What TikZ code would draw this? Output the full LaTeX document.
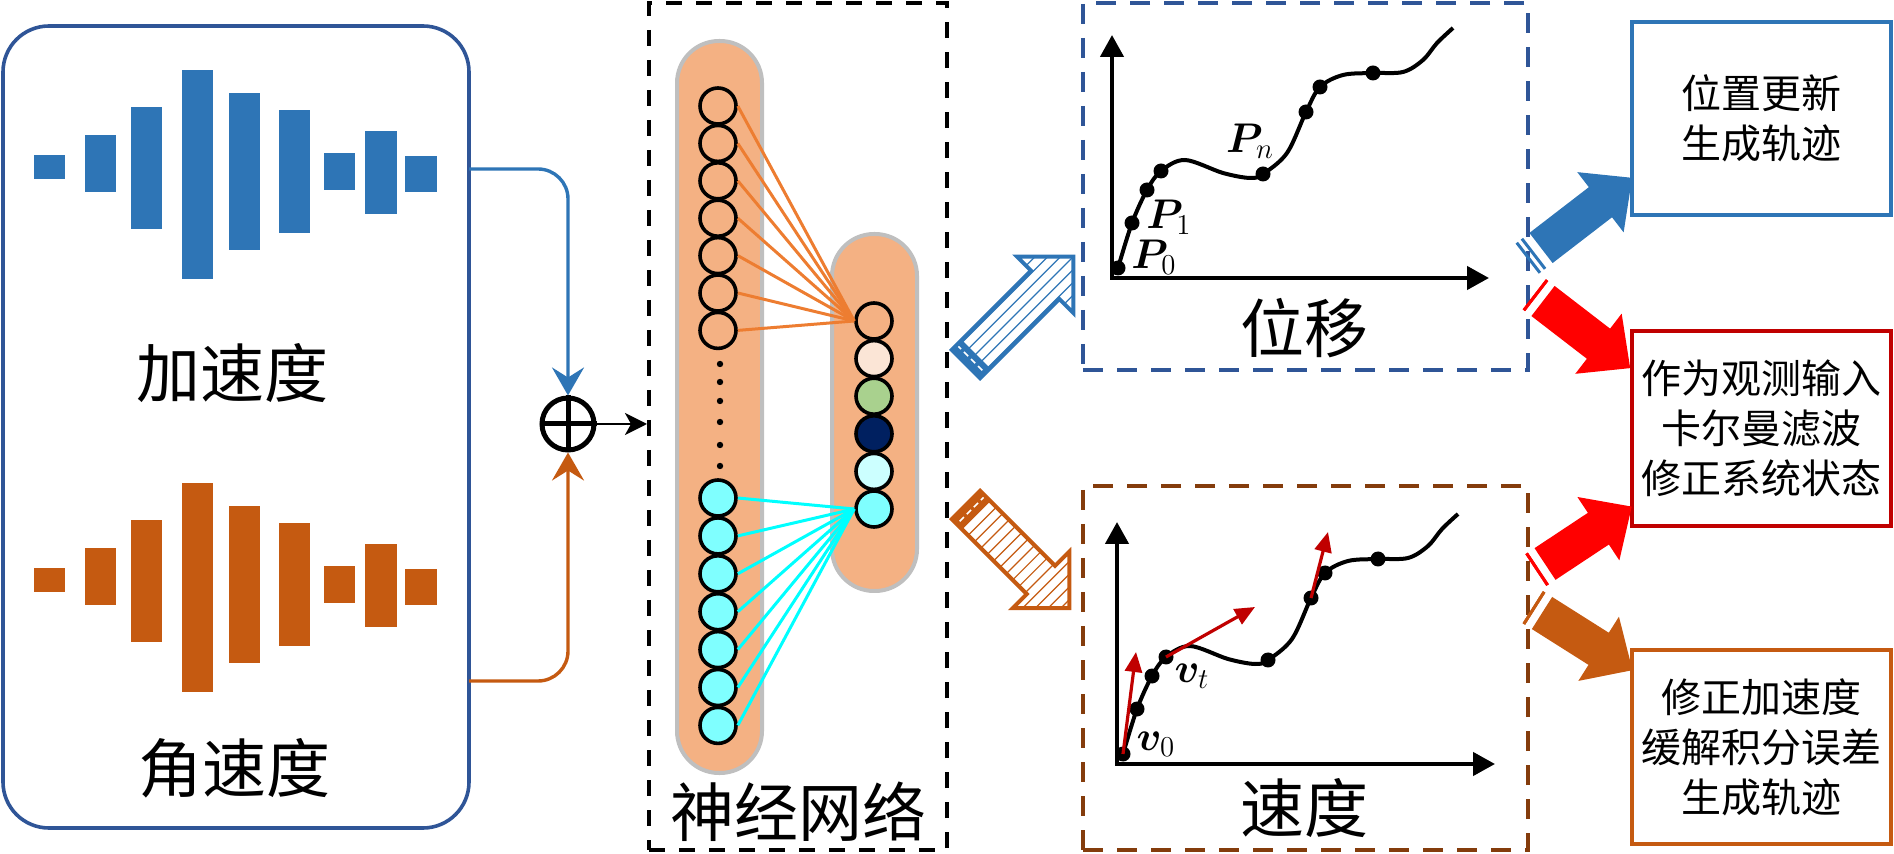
\documentclass[tikz,border=0pt]{standalone}
\usepackage{fontspec}
\usepackage{bm}
\newfontfamily\cjk{Noto Sans CJK SC}
\usetikzlibrary{arrows.meta}

\definecolor{accblue}{HTML}{2E75B6}
\definecolor{gyrorange}{HTML}{C55A11}
\definecolor{panelblue}{HTML}{2F5597}
\definecolor{velbrown}{HTML}{843C0C}
\definecolor{colfill}{HTML}{F4B183}
\definecolor{colgray}{HTML}{BFBFBF}
\definecolor{linkorange}{HTML}{ED7D31}
\definecolor{linkcyan}{HTML}{00FFFF}
\definecolor{cyanfill}{HTML}{7FFFFF}
\definecolor{peach}{HTML}{FBE5D6}
\definecolor{leaf}{HTML}{A9D18E}
\definecolor{navyfill}{HTML}{002060}
\definecolor{icefill}{HTML}{CCFFFF}
\definecolor{alertred}{HTML}{FF0000}
\definecolor{darkred}{HTML}{C00000}

\tikzset{
  cjkbig/.style={font=\cjk\fontsize{32pt}{36pt}\selectfont, inner sep=0pt},
  mathlabel/.style={font=\fontsize{20.74pt}{24pt}\selectfont, inner sep=0pt},
  neuron/.style={circle, draw=black, line width=1.8pt, minimum size=18pt, inner sep=0pt},
  column/.style={rectangle, rounded corners=21pt, fill=colfill, draw=colgray, line width=2pt},
  resultbox/.style={rectangle, line width=2pt, minimum width=129.5pt, minimum height=96.5pt,
    align=center, inner sep=0pt, font=\cjk\fontsize{20pt}{25pt}\selectfont},
  axis/.style={line width=2.2pt, line join=miter,
    {Triangle[length=11pt,width=11.5pt]}-{Triangle[length=11pt,width=11.5pt]}},
  curve/.style={line width=2pt, smooth, tension=0.55},
  velvec/.style={darkred, line width=1.6pt, -{Triangle[length=10pt,width=8.5pt]}}
}

\begin{document}
\begin{tikzpicture}[x=0.5pt,y=-0.5pt,
    panelbox/.style={rectangle, draw=panelblue, line width=1.8pt, rounded corners=23pt},
    sumnode/.style={circle, draw=black, line width=2.5pt, minimum size=26pt, inner sep=0pt},
    accwire/.style={accblue, line width=1.7pt, rounded corners=15pt, -{Stealth[length=14pt,width=16pt,inset=5pt]}},
    gyrwire/.style={gyrorange, line width=1.7pt, rounded corners=15pt, -{Stealth[length=14pt,width=16pt,inset=5pt]}},
    sumarrow/.style={line width=1.4pt, -{Stealth[length=11pt,width=11pt,inset=3pt]}},
    netbox/.style={rectangle, draw=black, line width=2pt, dash pattern=on 8pt off 7pt, inner sep=0pt},
    graphbox/.style={rectangle, line width=1.8pt, dash pattern=on 10pt off 7pt, inner sep=0pt,
      minimum width=222.5pt},
    orangelink/.style={linkorange, line width=1.5pt},
    cyanlink/.style={linkcyan, line width=1.5pt}]

      \useasboundingbox (0,0) rectangle (1894,854);

      \pgfmathsetmacro{\shaft}{20};
      \pgfmathsetmacro{\head}{40};

      % sensor panel with the two signals
      \node[panelbox, minimum width=233pt, minimum height=401pt] (sensor) at (236,427) {};
      \foreach \xa/\xb/\ya/\yb in {34/65/155/179, 85/116/135/192, 131/162/107/229,
        182/213/70/279, 229/260/93/250, 279/310/110/233, 324/355/153/190,
        365/397/131/214, 405/437/156/192}{
        \fill[accblue] (\xa,\ya) rectangle (\xb,\yb);
        \fill[gyrorange] (\xa,{\ya+413}) rectangle (\xb,{\yb+413});
      }
      \node[cjkbig] (acclabel) at (232,373) {加速度};
      \node[cjkbig] (gyrlabel) at (234,768) {角速度};

      % fusion
      \node[sumnode] (sum) at (568,424) {};
      \draw[line width=2.5pt] (sum.north) -- (sum.south) (sum.west) -- (sum.east);
      \coordinate (accout) at (469,169);
      \coordinate (gyrout) at (469,681);
      \draw[accwire] (accout) -| (sum.north);
      \draw[gyrwire] (gyrout) -| (sum.south);

      % network
      \node[netbox, minimum width=149pt, minimum height=423.5pt] (net) at (798,426.5) {};
      \draw[sumarrow] (sum.east) -- (sum.east -| net.west);

      \node[column, minimum width=42.5pt, minimum height=366pt] (incol) at (719.5,407) {};
      \node[column, minimum width=42.5pt, minimum height=178.5pt] (hidcol) at (874.5,412.5) {};

      \foreach \i in {1,...,7}
        \node[neuron] (in\i) at (718,{106+37.4*(\i-1)}) {};
      \foreach \i in {1,...,7}
        \node[neuron, fill=cyanfill] (lo\i) at (718,{498+37.9*(\i-1)}) {};
      \foreach \c [count=\i] in {none,peach,leaf,navyfill,icefill,cyanfill}
        \node[neuron, fill=\c] (hid\i) at (874,{321+37.6*(\i-1)}) {};
      \foreach \y in {364,382,401,422,445,466}
        \fill (720,\y) circle (1.6pt);

      \foreach \i in {1,...,7}
        \draw[orangelink] (in\i.east) -- (hid1.west);
      \foreach \i in {1,...,7}
        \draw[cyanlink] (lo\i.east) -- (hid6.west);

      \node[cjkbig] (netlabel) at (798,812) {神经网络};

      % hatched arrows out of the network
      \begin{scope}[shift={(966,364)}, rotate=45]
        \begin{scope}
          \clip (0,-\shaft) -- (112,-\shaft) -- (112,-\head) -- (152,0) -- (112,\head) -- (112,\shaft) -- (0,\shaft) -- cycle;
          \foreach \k in {-36,-27,...,36}
            \draw[accblue, line width=0.6pt] (0,\k) -- (152,\k);
        \end{scope}
        \fill[accblue] (0,-\shaft) rectangle (14,\shaft);
        \draw[white, line width=0.8pt, dash pattern=on 3pt off 2pt] (7,-\shaft) -- (7,\shaft);
        \draw[accblue, line width=2pt, line join=miter] (0,-\shaft) -- (112,-\shaft) -- (112,-\head) -- (152,0) -- (112,\head) -- (112,\shaft) -- (0,\shaft) -- cycle;
      \end{scope}

      \begin{scope}[shift={(966,505)}, rotate=-45]
        \begin{scope}
          \clip (0,-\shaft) -- (106,-\shaft) -- (106,-\head) -- (146,0) -- (106,\head) -- (106,\shaft) -- (0,\shaft) -- cycle;
          \foreach \k in {14,23,...,146}
            \draw[gyrorange, line width=0.6pt] (\k,-45) -- (\k,45);
        \end{scope}
        \fill[gyrorange] (0,-\shaft) rectangle (14,\shaft);
        \draw[white, line width=0.8pt, dash pattern=on 3pt off 2pt] (7,-\shaft) -- (7,\shaft);
        \draw[gyrorange, line width=2pt, line join=miter] (0,-\shaft) -- (106,-\shaft) -- (106,-\head) -- (146,0) -- (106,\head) -- (106,\shaft) -- (0,\shaft) -- cycle;
      \end{scope}

      % position graph
      \node[graphbox, draw=panelblue, minimum height=183.5pt] (posbox) at (1305.5,186.5) {};
      \coordinate (po) at (1112,278);
      \coordinate (poy) at (1112,35);
      \coordinate (pox) at (1489,278);
      \draw[axis] (poy) -- (po) -- (pox);

      % velocity graph
      \node[graphbox, draw=velbrown, minimum height=182pt] (velbox) at (1305.5,668) {};
      \coordinate (vo) at (1117,764);
      \coordinate (voy) at (1117,522);
      \coordinate (vox) at (1495,764);
      \draw[axis] (voy) -- (vo) -- (vox);

      % same trajectory in both graphs
      \foreach \dx/\dy in {0/0, 5/486}{
        \begin{scope}[shift={(\dx,\dy)}]
          \draw[curve] plot coordinates {(1118,268) (1132,223) (1147,190) (1161,171)
            (1185,160) (1223,173) (1250,178) (1263,174) (1287,153) (1306,112)
            (1320,87) (1343,75) (1373,73) (1403,72) (1423,60) (1437,43) (1453,28)};
          \foreach \p in {(1118,268),(1132,223),(1147,190),(1161,171),(1263,174),
            (1306,112),(1320,87),(1373,73)}
            \fill \p circle (3.75pt);
        \end{scope}
      }

      \node[mathlabel] (p0) at (1154,257) {$\bm{P}_0$};
      \node[mathlabel] (p1) at (1169,217) {$\bm{P}_1$};
      \node[mathlabel] (pn) at (1250,141) {$\bm{P}_n$};
      \node[cjkbig] (poslabel) at (1304,328) {位移};

      \coordinate (vd0) at (1123,754);
      \coordinate (vd3) at (1166,657);
      \coordinate (vd5) at (1311,598);
      \coordinate (vtip0) at (1136,652);
      \coordinate (vtip3) at (1255,607);
      \coordinate (vtip5) at (1328,532);
      \draw[velvec] (vd0) -- (vtip0);
      \draw[velvec] (vd3) -- (vtip3);
      \draw[velvec] (vd5) -- (vtip5);
      \node[mathlabel] (v0) at (1156,744) {$\bm{v}_0$};
      \node[mathlabel] (vt) at (1192,676) {$\bm{v}_t$};
      \node[cjkbig] (vellabel) at (1304,808) {速度};

      % results
      \node[resultbox, draw=accblue] (update) at (1761.5,118.5) {位置更新\\生成轨迹};
      \node[resultbox, draw=darkred, minimum height=97.5pt] (kalman) at (1761.5,428.5) {作为观测输入\\卡尔曼滤波\\修正系统状态};
      \node[resultbox, draw=gyrorange, minimum height=97pt] (correct) at (1761.5,747) {修正加速度\\缓解积分误差\\生成轨迹};

      % striped arrows into the results
      \foreach \tx/\ty/\arang/\arlen/\arcol/\sa in {1541/248/37.6/115/accblue/-17.5,
        1543/301/-37.6/110/alertred/-11, 1545/564/33.5/104/alertred/-11,
        1542/613/-32.3/107/gyrorange/-11}{
        \begin{scope}[shift={(\tx,\ty)}, rotate=\arang]
          \fill[\arcol] (0,-19) -- ({\arlen-40},-19) -- ({\arlen-40},-38) -- (\arlen,0)
            -- ({\arlen-40},38) -- ({\arlen-40},19) -- (0,19) -- cycle;
          \fill[\arcol] (-11,-19) rectangle (-8,19);
          \fill[\arcol] (\sa,-19) rectangle ({\sa+3},19);
        \end{scope}
      }
    \end{tikzpicture}
\end{document}
